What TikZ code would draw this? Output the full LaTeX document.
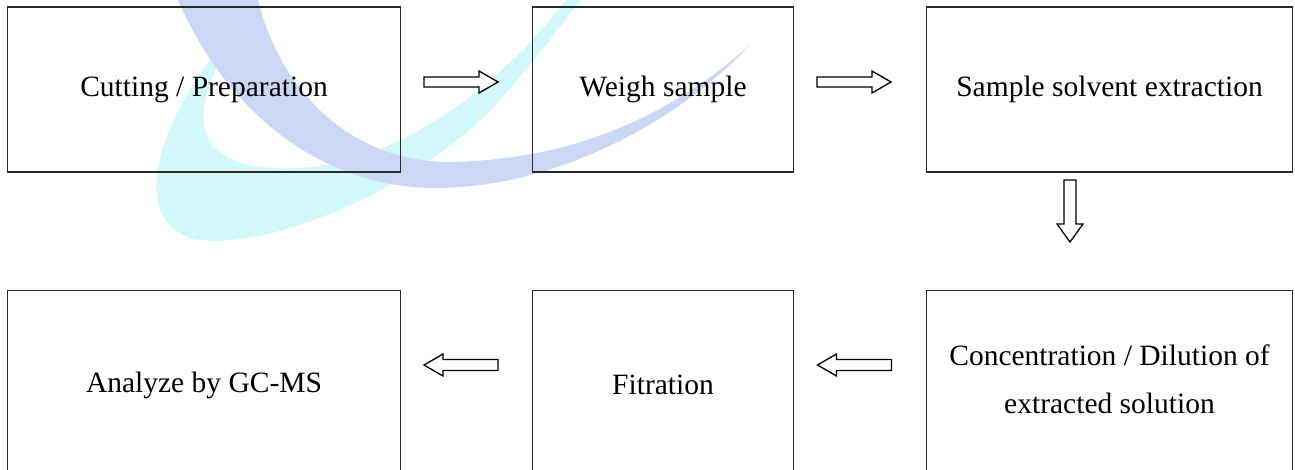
\documentclass[tikz,border=0pt]{standalone}
\usepackage{fontspec}
\setmainfont{Liberation Serif}
\usetikzlibrary{calc}
\definecolor{wmblue}{HTML}{CAD8F6}
\definecolor{wmcyan}{HTML}{D3F8FB}
\definecolor{boxline}{HTML}{2A2A2A}
\begin{document}
\begin{tikzpicture}[x=1pt,y=-1pt,
  stepbox/.style={draw=boxline,line width=1.8pt,minimum width=#1,minimum height=165pt,inner sep=0pt,align=center,font=\fontsize{29.5}{48}\selectfont},
  lowbox/.style={stepbox=#1,minimum height=189pt},
  steptext/.style={inner sep=0pt,align=center,font=\fontsize{29.5}{48}\selectfont},
  blockarrow/.style={draw=black,line width=1.3pt,fill=white,line join=miter},
  rarrow/.pic={\path[blockarrow] (-37,-5) -- (18,-5) -- (18,-11) -- (37,0) -- (18,11) -- (18,5) -- (-37,5) -- cycle;},
  larrow/.pic={\path[blockarrow] (37,-5.5) -- (-18,-5.5) -- (-18,-11) -- (-37,0) -- (-18,11) -- (-18,5.5) -- (37,5.5) -- cycle;},
  darrow/.pic={\path[blockarrow] (-6,-31) -- (6,-31) -- (6,13) -- (13,13) -- (0,31) -- (-13,13) -- (-6,13) -- cycle;}
]
\useasboundingbox (0,0) rectangle (1295,470);
\clip (0,0) rectangle (1295,470);
% watermark
\fill[wmcyan] (248,18) .. controls (170,90) and (120,215) .. (190,238)
  .. controls (260,255) and (420,190) .. (500,100)
  .. controls (540,55) and (565,20) .. (580,0) -- (566,0)
  .. controls (520,60) and (420,160) .. (300,168)
  .. controls (230,172) and (195,150) .. (205,100)
  .. controls (212,70) and (230,40) .. cycle;
\fill[wmblue] (178,0) .. controls (230,120) and (330,190) .. (440,188)
  .. controls (560,186) and (680,120) .. (750,45)
  .. controls (660,125) and (560,160) .. (450,162)
  .. controls (350,162) and (280,90) .. (258,0) -- cycle;
% boxes
\node[stepbox=393pt] (b1) at (204,89.5) {Cutting / Preparation};
\node[stepbox=261pt] (b2) at (663,89.5) {Weigh sample};
\node[stepbox=366pt] (b3) at (1109.5,89.5) {Sample solvent extraction};
\node[lowbox=366pt] (b4) at (1109.5,385) {};
\node[steptext] (t4) at ($(b4.center)+(0,-6)$) {Concentration / Dilution of\\extracted solution};
\node[lowbox=261pt] (b5) at (663,385) {Fitration};
\node[lowbox=393pt] (b6) at (204,385) {Analyze by GC-MS};
% block arrows
\pic (a1) at (461,82) {rarrow};
\pic (a2) at (854,82) {rarrow};
\pic (a3) at (1070,211) {darrow};
\pic (a4) at (854.5,365) {larrow};
\pic (a5) at (461,365) {larrow};
\end{tikzpicture}
\end{document}
